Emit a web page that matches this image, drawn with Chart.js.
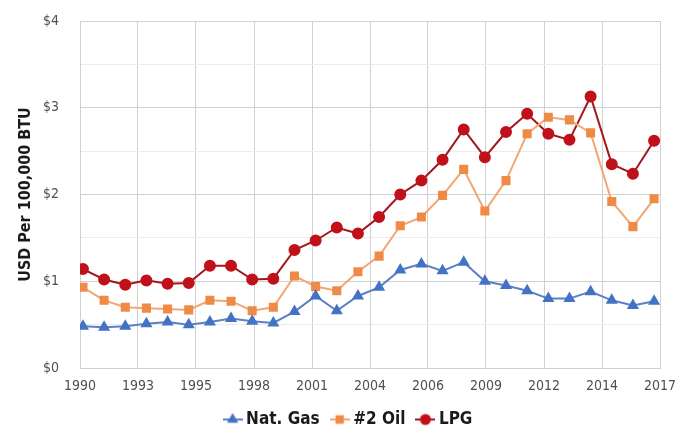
<!DOCTYPE html>
<html>
<head>
<meta charset="utf-8">
<script src="https://cdn.jsdelivr.net/npm/chart.js@4.4.1/dist/chart.umd.min.js"></script>
<style>
  html, body { margin: 0; padding: 0; background: #fff; }
  #wrap { width: 688px; height: 429px; }
</style>
</head>
<body>
<div id="wrap"><canvas id="fuelChart"></canvas></div>
<script>
const years = [1990, 1991, 1992, 1993, 1994, 1995, 1996, 1997, 1998, 1999,
  2000, 2001, 2002, 2003, 2004, 2005, 2006, 2007, 2008, 2009,
  2010, 2011, 2012, 2013, 2014, 2015, 2016, 2017];
const natGas = [0.48, 0.47, 0.48, 0.51, 0.53, 0.50, 0.53, 0.57, 0.54, 0.52,
  0.65, 0.83, 0.66, 0.83, 0.93, 1.13, 1.20, 1.12, 1.22, 1.00,
  0.95, 0.89, 0.80, 0.80, 0.88, 0.78, 0.72, 0.77];
const oil2 = [0.93, 0.78, 0.70, 0.69, 0.68, 0.67, 0.78, 0.77, 0.66, 0.70,
  1.06, 0.94, 0.89, 1.11, 1.29, 1.64, 1.74, 1.99, 2.29, 1.81,
  2.16, 2.70, 2.89, 2.86, 2.71, 1.92, 1.63, 1.95];
const lpg = [1.14, 1.02, 0.96, 1.01, 0.97, 0.98, 1.18, 1.18, 1.02, 1.03,
  1.36, 1.47, 1.62, 1.55, 1.74, 2.00, 2.16, 2.40, 2.75, 2.43,
  2.72, 2.93, 2.70, 2.63, 3.13, 2.35, 2.24, 2.62];
const xTickLabels = ['1990', '1993', '1995', '1998', '2001', '2004', '2006', '2009', '2012', '2014', '2017'];
const yTickLabels = ['$0', '$1', '$2', '$3', '$4'];

const X_MIN = 1989.86;
const X_MAX = 2017.28;
const NARROW = "'Liberation Sans Narrow', 'DejaVu Sans Condensed', sans-serif";

function toPoints(values) {
  return years.map((yr, i) => ({ x: yr, y: values[i] }));
}

// small line+marker picture for the legend, like the Excel one
function legendIcon(lineColor, markColor, style, radius) {
  const c = document.createElement('canvas');
  c.width = 20;
  c.height = 14;
  const g = c.getContext('2d');
  g.strokeStyle = lineColor;
  g.lineWidth = 2;
  g.beginPath();
  g.moveTo(0, 7);
  g.lineTo(20, 7);
  g.stroke();
  g.fillStyle = markColor;
  g.strokeStyle = markColor;
  Chart.helpers.drawPoint(g, { pointStyle: style, radius: radius, borderWidth: 1 }, 10, 7);
  return c;
}

const series = [
  { label: 'Nat. Gas', values: natGas, line: '#5b80c8', mark: '#4472c4', style: 'triangle', r: 5 },
  { label: '#2 Oil', values: oil2, line: '#f3a572', mark: '#ef8a47', style: 'rect', r: 5 },
  { label: 'LPG', values: lpg, line: '#a3161c', mark: '#c0111b', style: 'circle', r: 5 }
];

const ctx = document.getElementById('fuelChart').getContext('2d');

const fuelChart = new Chart(ctx, {
  type: 'line',
  data: {
    datasets: series.map(s => ({
      label: s.label,
      data: toPoints(s.values),
      borderColor: s.line,
      borderWidth: 2,
      backgroundColor: s.mark,
      pointBackgroundColor: s.mark,
      pointBorderColor: s.mark,
      pointStyle: s.style,
      pointRadius: s.r,
      tension: 0,
      fill: false,
    }))
  },
  options: {
    animation: false,
    responsive: true,
    maintainAspectRatio: false,
    layout: { padding: { top: 21, left: 12, right: 0, bottom: -9 } },
    plugins: {
      tooltip: { enabled: false },
      legend: {
        position: 'bottom',
        labels: {
          usePointStyle: true,
          pointStyleWidth: 10,
          padding: 15,
          color: '#1a1a1a',
          font: { family: NARROW, size: 17, weight: 'bold' },
          generateLabels: (chart) => chart.data.datasets.map((ds, i) => ({
            text: ds.label,
            pointStyle: legendIcon(series[i].line, series[i].mark, series[i].style, 4.5),
            fillStyle: ds.backgroundColor,
            strokeStyle: ds.borderColor,
            lineWidth: 0,
            fontColor: '#1a1a1a',
            datasetIndex: i,
          }))
        }
      }
    },
    scales: {
      x: {
        type: 'linear',
        min: X_MIN,
        max: X_MAX,
        afterBuildTicks: (scale) => {
          scale.ticks = xTickLabels.map((_, i) => ({ value: X_MIN + i * (X_MAX - X_MIN) / (xTickLabels.length - 1) }));
        },
        afterFit: (scale) => { scale.height = 28; },
        grid: { color: '#d0d0d0', drawTicks: false },
        border: { color: '#d0d0d0' },
        ticks: {
          autoSkip: false,
          maxRotation: 0,
          padding: 10,
          color: '#505050',
          font: { family: NARROW, size: 14 },
          callback: (v, i) => xTickLabels[i]
        }
      },
      y: {
        min: 0,
        max: 4,
        afterFit: (scale) => { scale.width = 68; },
        grid: {
          drawTicks: true,
          tickLength: 13,
          tickColor: 'rgba(0,0,0,0)',
          color: (c) => (c.tick && c.tick.value % 1 === 0) ? '#d0d0d0' : '#ececec'
        },
        border: { color: '#d0d0d0' },
        ticks: {
          stepSize: 0.5,
          padding: 8,
          color: '#505050',
          font: { family: NARROW, size: 14 },
          callback: (v) => Number.isInteger(v) ? yTickLabels[v] : ''
        },
        title: {
          display: true,
          text: 'USD Per 100,000 BTU',
          color: '#1a1a1a',
          padding: { top: 4, bottom: 0 },
          font: { family: NARROW, size: 16, weight: 'bold' }
        }
      },
      yRight: {
        position: 'right',
        afterFit: (scale) => { scale.width = 28; },
        grid: { display: false },
        border: { display: false },
        ticks: { display: false }
      }
    }
  }
});
</script>
</body>
</html>
